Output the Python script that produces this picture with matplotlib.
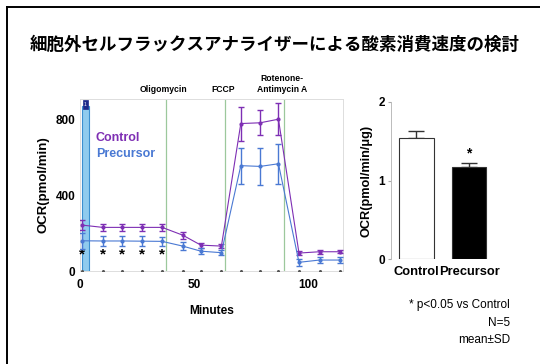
import numpy as np
import matplotlib
matplotlib.use('Agg')
import matplotlib.pyplot as plt
from matplotlib.lines import Line2D
from matplotlib.patches import Rectangle

plt.rcParams['font.family'] = ['Liberation Sans', 'DejaVu Sans']

# time course data (Minutes vs OCR)
minutes = [1, 10, 18.5, 27, 36, 45, 53, 62, 70.5, 79, 87, 96, 105, 114]
control = [243, 231, 231, 231, 231, 190, 137, 132, 781, 785, 804, 95, 102, 102]
control_sd = [26, 20, 20, 20, 20, 18, 13, 12, 90, 67, 84, 11, 11, 9]
precursor = [160, 159, 159, 158, 157, 132, 105, 97, 558, 554, 568, 46, 58, 58]
precursor_sd = [42, 26, 25, 25, 25, 20, 15, 14, 95, 100, 105, 20, 14, 14]
star_points = [1, 10, 18.5, 27, 36]
injections = [37.7, 63.6, 89.5]
injection_names = ['Oligomycin', 'FCCP', 'Rotenone-\nAntimycin A']

# bar data
groups = ['Control', 'Precursor']
bar_vals = [1.54, 1.17]
bar_sd = [0.09, 0.05]

c_ctrl = '#7e2fb4'
c_prec = '#4a79d3'

fig = plt.figure(figsize=(5.4, 3.64), dpi=100)

# slide border
fig.add_artist(Line2D([7/540, 7/540], [0, 1 - 7/364], color='black', lw=1.4))
fig.add_artist(Line2D([7/540, 1], [1 - 7/364, 1 - 7/364], color='black', lw=1.4))

fig.text(0.508, 1 - 45/364, '細胞外セルフラックスアナライザーによる酸素消費速度の検討',
         ha='center', va='center', fontsize=12.6, fontweight='bold',
         family=['Noto Sans CJK JP', 'DejaVu Sans'])

# ---- left: time course
ax = fig.add_axes([80/540, 1 - 271/364, 263/540, 172/364])
ax.set_xlim(0, 115.3)
ax.set_ylim(0, 911)

ax.add_patch(Rectangle((0.9, 0), 3.0, 875, facecolor='#8fcbee', edgecolor='#3a8fd0', lw=0.8, zorder=1))
ax.add_patch(Rectangle((1.1, 860), 2.6, 45, facecolor='#1c2a8a', edgecolor='#1c2a8a', lw=0.5, zorder=2))
ax.text(2.4, 882, '1', color='white', fontsize=3.5, ha='center', va='center', zorder=3)

for xi in injections:
    ax.axvline(xi, color='#9cc89c', lw=0.9, zorder=1)

ax.errorbar(minutes, control, yerr=control_sd, color=c_ctrl, lw=0.8, marker='o', ms=2,
            capsize=2.5, elinewidth=1.0, capthick=1.0, zorder=4)
ax.errorbar(minutes, precursor, yerr=precursor_sd, color=c_prec, lw=0.8, marker='o', ms=2,
            capsize=2.5, elinewidth=1.0, capthick=1.0, zorder=4)
ax.plot(minutes, [0] * len(minutes), linestyle='none', marker='o', ms=1.2, color='#555555', zorder=4)
for xs in star_points:
    ax.text(xs, 85, '*', ha='center', va='center', fontsize=11, fontweight='bold', color='black')

ax.text(7.0, 705, 'Control', color=c_ctrl, fontsize=9, fontweight='bold', va='center')
ax.text(7.0, 620, 'Precursor', color=c_prec, fontsize=9, fontweight='bold', va='center')

for xi, name in zip(injections, injection_names):
    ax.text(xi - 1, 935, name, ha='center', va='bottom', fontsize=6.2, fontweight='bold',
            linespacing=1.3, transform=ax.transData, clip_on=False)

ax.set_yticks([0, 400, 800])
ax.set_xticks([0, 50, 100])
ax.tick_params(axis='y', length=0, labelsize=8.5, pad=3.5)
ax.tick_params(axis='x', length=0, labelsize=8.5, pad=6)
for lab in ax.get_xticklabels() + ax.get_yticklabels():
    lab.set_fontweight('bold')
for s in ax.spines.values():
    s.set_color('#dddddd')
    s.set_linewidth(0.7)
ax.set_ylabel('OCR(pmol/min)', fontsize=9.5, fontweight='bold', labelpad=4)
ax.set_xlabel('Minutes', fontsize=8.6, fontweight='bold', labelpad=10)

# ---- right: bars
bx = fig.add_axes([390.7/540, 1 - 259/364, 110/540, 157/364])
xpos = np.arange(len(groups))
bx.bar(xpos, bar_vals, width=0.66, color=['white', 'black'], edgecolor='#333333', lw=0.8, zorder=2)
bx.errorbar(xpos, bar_vals, yerr=[[0, 0], bar_sd], fmt='none', ecolor='#333333',
            elinewidth=1.0, capsize=6, capthick=1.0, zorder=1)
bx.text(1, bar_vals[1] + bar_sd[1] + 0.04, '*', ha='center', va='bottom', fontsize=10, fontweight='bold')
bx.set_xlim(-0.49, 1.6)
bx.set_ylim(0, 2)
bx.set_yticks([0, 1, 2])
bx.set_xticks(xpos)
bx.set_xticklabels(groups)
bx.tick_params(axis='y', length=2, color='#aaaaaa', labelsize=8.5, pad=2)
bx.tick_params(axis='x', length=0, labelsize=9.3, pad=5)
for lab in bx.get_xticklabels() + bx.get_yticklabels():
    lab.set_fontweight('bold')
for k in ['top', 'right', 'bottom']:
    bx.spines[k].set_visible(False)
bx.spines['left'].set_color('#bbbbbb')
bx.spines['left'].set_linewidth(0.7)
bx.set_ylabel('OCR(pmol/min/μg)', fontsize=9.2, fontweight='bold', labelpad=4)

fig.text(510/540, 1 - 305/364, '* p<0.05 vs Control', ha='right', va='center', fontsize=8.5)
fig.text(510/540, 1 - 323/364, 'N=5', ha='right', va='center', fontsize=8.5)
fig.text(510/540, 1 - 340/364, 'mean±SD', ha='right', va='center', fontsize=8.5)

fig.savefig('out.png', dpi=100)
